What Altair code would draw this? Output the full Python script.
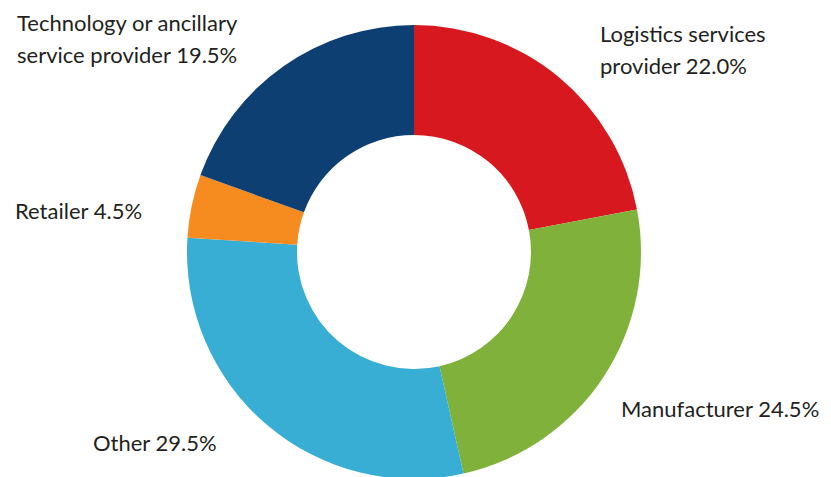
import altair as alt
import pandas as pd

# Data
categories = ["Logistics services provider", "Manufacturer", "Other", "Retailer",
              "Technology or ancillary service provider"]
shares = [22.0, 24.5, 29.5, 4.5, 19.5]
label_names = ["Logistics services\nprovider", "Manufacturer", "Other", "Retailer",
               "Technology or ancillary\nservice provider"]

# Styles / layout
colors = ["#D7191F", "#80B13A", "#38AED5", "#F68B1F", "#0D3F73"]
label_x = [592, 613, 85, 7, 9]
label_y = [34, 409, 443, 211, 23]
CX, CY = 406, 244

df = pd.DataFrame({
    "category": categories,
    "share": shares,
    "order": list(range(len(categories))),
})
labels = pd.DataFrame({
    "text": [f"{n} {v:.1f}%" for n, v in zip(label_names, shares)],
    "lx": label_x,
    "ly": label_y,
})

donut = alt.Chart(df).mark_arc(outerRadius=227, innerRadius=117).encode(
    theta=alt.Theta("share:Q", stack=True),
    color=alt.Color("category:N", scale=alt.Scale(domain=categories, range=colors), legend=None),
    order=alt.Order("order:Q"),
    x=alt.value(CX),
    y=alt.value(CY),
)

text = alt.Chart(labels).mark_text(
    align="left", baseline="alphabetic", font="Lato", fontSize=22,
    color="#231F20", lineBreak="\n", lineHeight=32,
).encode(
    x=alt.X("lx:Q", scale=None),
    y=alt.Y("ly:Q", scale=None),
    text="text:N",
)

chart = alt.layer(donut, text).properties(
    width=815, height=469,
    autosize=alt.AutoSizeParams(type="none"),
    padding=0,
).configure_view(stroke=None)

chart.save("out.html", embed_options={"renderer": "svg", "actions": False})
